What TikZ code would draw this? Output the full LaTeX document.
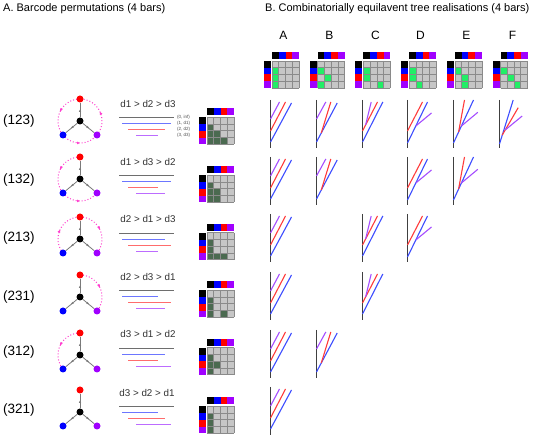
\documentclass[tikz,border=0pt]{standalone}
\usepackage{fontspec}
\setmainfont{Liberation Sans}
\usetikzlibrary{arrows.meta,decorations.markings}
\definecolor{tblue}{HTML}{3D4DFF}
\definecolor{tred}{HTML}{FF3B3B}
\definecolor{tpurple}{HTML}{A54DFF}
\definecolor{lblue}{HTML}{6C76FF}
\definecolor{lred}{HTML}{FF6C6C}
\definecolor{lpurple}{HTML}{BC6CFF}
\definecolor{lgrey}{HTML}{6E6E6E}
\definecolor{gblue}{HTML}{0000FF}
\definecolor{gred}{HTML}{FF0000}
\definecolor{gpurple}{HTML}{A000FF}
\definecolor{cellgrey}{HTML}{C6C6C6}
\definecolor{cellline}{HTML}{8A8A8A}
\definecolor{dgreen}{HTML}{4B6A50}
\definecolor{bgreen}{HTML}{22EE66}
\definecolor{arcpink}{HTML}{FF3FCF}
\definecolor{spokegrey}{HTML}{7A7A7A}
\tikzset{
  trunk/.style={draw=black!75, line width=1.2pt},
  tb/.style={draw=tblue, line width=1.1pt},
  tr/.style={draw=tred, line width=1.1pt},
  tp/.style={draw=tpurple, line width=1.1pt},
  bar0/.style={fill=lgrey},
  bar1/.style={fill=lblue},
  bar2/.style={fill=lred},
  bar3/.style={fill=lpurple},
  vtx/.style={circle, inner sep=0pt, minimum size=7pt},
  spoke/.style={draw=spokegrey, line width=0.8pt, postaction={decorate},
    decoration={markings, mark=at position 0.55 with {\arrow{Latex[length=2.6pt,width=2.4pt]}}}},
  pinkarc/.style={draw=arcpink, line width=1pt, dotted, postaction={decorate},
    decoration={markings, mark=at position 0.5 with {\arrow[solid]{Latex[length=3pt,width=3pt]}}}},
  ttl/.style={font=\fontsize{11}{13}\selectfont, anchor=base west, inner sep=0pt},
  colletter/.style={font=\fontsize{12}{14}\selectfont, anchor=base, inner sep=0pt},
  permlabel/.style={font=\fontsize{13.5}{15}\selectfont, anchor=base west, inner sep=0pt},
  order/.style={font=\fontsize{9.8}{11}\selectfont, anchor=base, inner sep=0pt, text=black!80},
  tiny/.style={font=\fontsize{4.5}{5}\selectfont, anchor=west, inner sep=0pt, text=black!70}
}
% barcode matrix: #1 x0, #2 top y, #3 colour, #4 list row/col
\newcommand{\bcgrid}[4]{%
  \begin{scope}[shift={(#1,#2)}]
    \fill[black] (0,0) rectangle (6.75,7);
    \fill[gblue] (6.75,0) rectangle (13.5,7);
    \fill[gred] (13.5,0) rectangle (20.25,7);
    \fill[gpurple] (20.25,0) rectangle (27,7);
    \fill[black] (-8,9) rectangle (-1,15.75);
    \fill[gblue] (-8,15.75) rectangle (-1,22.5);
    \fill[gred] (-8,22.5) rectangle (-1,29.25);
    \fill[gpurple] (-8,29.25) rectangle (-1,36);
    \fill[cellgrey] (0,9) rectangle (27,36);
    \foreach \rr/\cc in {#4} \fill[#3] ({\cc*6.75},{9+\rr*6.75}) rectangle ++(6.75,6.75);
    \foreach \k in {0,...,4} {
      \draw[cellline, line width=0.6pt] ({\k*6.75},9) -- ({\k*6.75},36);
      \draw[cellline, line width=0.6pt] (0,{9+\k*6.75}) -- (27,{9+\k*6.75});
    }
  \end{scope}}
% trees
\newcommand{\treeA}[2]{\begin{scope}[shift={(#1,#2)}]
  \draw[trunk] (0,0) -- (0,48);
  \draw[tb] (0,42) -- (21,3);
  \draw[tr] (0,31) -- (15,2);
  \draw[tp] (0,19) -- (9,2);
\end{scope}}
\newcommand{\treeB}[2]{\begin{scope}[shift={(#1,#2)}]
  \draw[trunk] (0,0) -- (0,48);
  \draw[tb] (0,42) -- (20.7,3);
  \draw[tr] (4.8,33) -- (14.3,2);
  \draw[tp] (0,19) -- (9.3,2);
\end{scope}}
\newcommand{\treeC}[2]{\begin{scope}[shift={(#1,#2)}]
  \draw[trunk] (0,0) -- (0,48);
  \draw[tb] (0,42) -- (20.3,2);
  \draw[tr] (0,31) -- (15,2);
  \draw[tp] (3.1,25) -- (8.7,2);
\end{scope}}
\newcommand{\treeD}[2]{\begin{scope}[shift={(#1,#2)}]
  \draw[trunk] (0,0) -- (0,48);
  \draw[tr] (0,31) -- (15,2);
  \draw[tb] (0,43) -- (20,2);
  \draw[tp] (8.3,26) -- (24,13);
\end{scope}}
\newcommand{\treeE}[2]{\begin{scope}[shift={(#1,#2)}]
  \draw[trunk] (0,0) -- (0,48);
  \draw[tb] (0,43) -- (20,0);
  \draw[tr] (5.1,32) -- (11,0);
  \draw[tp] (7.9,26) -- (24.3,12.3);
\end{scope}}
\newcommand{\treeF}[2]{\begin{scope}[shift={(#1,#2)}]
  \draw[trunk] (0,0) -- (0,48);
  \draw[tb] (0,44) -- (13.7,0);
  \draw[tr] (2.8,35) -- (18.7,7.7);
  \draw[tp] (5.7,30) -- (22.7,16);
\end{scope}}
% pink arc around (80,#1) from angle #2 to #3 (y-down angles)
\newcommand{\parc}[3]{%
  \draw[pinkarc] plot[domain=#2:#3, samples=40, variable=\aa] ({80+22*cos(\aa)}, {#1+22*sin(\aa)});}
% permutation graph nodes: #1 name, #2 centre y
\newcommand{\permgraph}[2]{%
  \node[vtx, fill=black] (k#1) at (80,#2) {};
  \node[vtx, fill=gred] (r#1) at (80,#2-22) {};
  \node[vtx, fill=gblue] (b#1) at (63,#2+14) {};
  \node[vtx, fill=gpurple] (p#1) at (97,#2+14) {};
  \draw[spoke] (k#1) -- (r#1);
  \draw[spoke] (k#1) -- (b#1);
  \draw[spoke] (k#1) -- (p#1);}
% barcode bars as thin filled strips: #1 t, #2 blue end, #3 red end, #4 purple end
\newcommand{\bars}[4]{%
  \fill[bar0] (119,#1+12.8) rectangle (174,#1+14.2);
  \fill[bar1] (122,#1+18.8) rectangle (#2,#1+20.2);
  \fill[bar2] (128,#1+24.8) rectangle (#3,#1+26.2);
  \fill[bar3] (135.5,#1+30.8) rectangle (#4,#1+32.2);}
\begin{document}
\begin{tikzpicture}[x=1pt,y=-1pt]
\fill[white] (0,0) rectangle (550,441);
\useasboundingbox (0,0) rectangle (550,441);
% titles
\node[ttl] (titleA) at (3,11.7) {A. Barcode permutations (4 bars)};
\node[ttl] (titleB) at (265,11.7) {B. Combinatorially equilavent tree realisations (4 bars)};
% column headers
\foreach \L/\X in {A/270.5,B/316.5,C/362.5,D/407.5,E/453.5,F/499.5}
  \node[colletter] (col\L) at (\X+13,40) {\L};
\bcgrid{272}{52}{bgreen}{1/0,2/0,3/0}
\bcgrid{317.7}{52}{bgreen}{1/0,2/1,3/0}
\bcgrid{363.4}{52}{bgreen}{1/0,2/0,3/2}
\bcgrid{409.1}{52}{bgreen}{1/0,2/0,3/1}
\bcgrid{454.8}{52}{bgreen}{1/0,2/1,3/1}
\bcgrid{500.5}{52}{bgreen}{1/0,2/1,3/2}
% ---------- row 1 (123)
\node[permlabel] (l1) at (3,125) {(123)};
\parc{121}{270}{140.5}\parc{121}{140.5}{39.5}\parc{121}{39.5}{-90}
\permgraph{1}{121}
\node[order] (o1) at (148,107.5) {d1 > d2 > d3};
\node[tiny] (z0) at (177,117.5) {(0, inf)};
\node[tiny] (z1) at (177,123.5) {(1, d1)};
\node[tiny] (z2) at (177,129.5) {(2, d2)};
\node[tiny] (z3) at (177,135.5) {(3, d3)};
\bcgrid{207}{108.3}{dgreen}{1/0,2/0,3/0,2/1,3/1,3/2}
\treeA{270.5}{100}\treeB{316.5}{100}\treeC{362.5}{100}\treeD{407.5}{100}\treeE{453.5}{100}\treeF{499.5}{100}
% ---------- row 2 (132)
\node[permlabel] (l2) at (3,184) {(132)};
\parc{179}{270}{140.5}\parc{179}{140.5}{39.5}
\permgraph{2}{179}
\node[order] (o2) at (148,165.7) {d1 > d3 > d2};
\bcgrid{207}{166.3}{dgreen}{1/0,2/0,3/0,2/1,3/1}
\treeA{270.5}{157}\treeB{316.5}{157}\treeD{407.5}{157}\treeE{453.5}{157}
% ---------- row 3 (213)
\node[permlabel] (l3) at (3,241.7) {(213)};
\parc{239}{140.5}{270}\parc{239}{270}{399.5}
\permgraph{3}{239}
\node[order] (o3) at (148,222.7) {d2 > d1 > d3};
\bcgrid{207}{223.8}{dgreen}{1/0,2/0,3/0,3/1,3/2}
\treeA{270.5}{214}\treeC{362.5}{214}\treeD{407.5}{214}
% ---------- row 4 (231)
\node[permlabel] (l4) at (3,301) {(231)};
\parc{297}{-90}{39.5}
\permgraph{4}{297}
\node[order] (o4) at (148,280.5) {d2 > d3 > d1};
\bcgrid{207}{281.3}{dgreen}{1/0,2/0,3/0,3/2}
\treeA{270.5}{272}\treeC{362.5}{272}
% ---------- row 5 (312)
\node[permlabel] (l5) at (3,355.7) {(312)};
\parc{355}{270}{140.5}
\permgraph{5}{355}
\node[order] (o5) at (148,337.5) {d3 > d1 > d2};
\bcgrid{207}{338.8}{dgreen}{1/0,2/0,3/0,2/1}
\treeA{270.5}{330}\treeB{316.5}{330}
% ---------- row 6 (321)
\node[permlabel] (l6) at (3,413.3) {(321)};
\permgraph{6}{412}
\node[order] (o6) at (147,396.5) {d3 > d2 > d1};
\bcgrid{207}{397.3}{dgreen}{1/0,2/0,3/0}
\treeA{270.5}{387}
% barcodes (drawn last)
\bars{104}{171}{165}{158}
\bars{162}{171}{158}{165}
\bars{220}{165}{171}{158}
\bars{277}{158}{171}{165}
\bars{335}{165}{158}{171}
\bars{393}{158}{165}{171}
\end{tikzpicture}
\end{document}
